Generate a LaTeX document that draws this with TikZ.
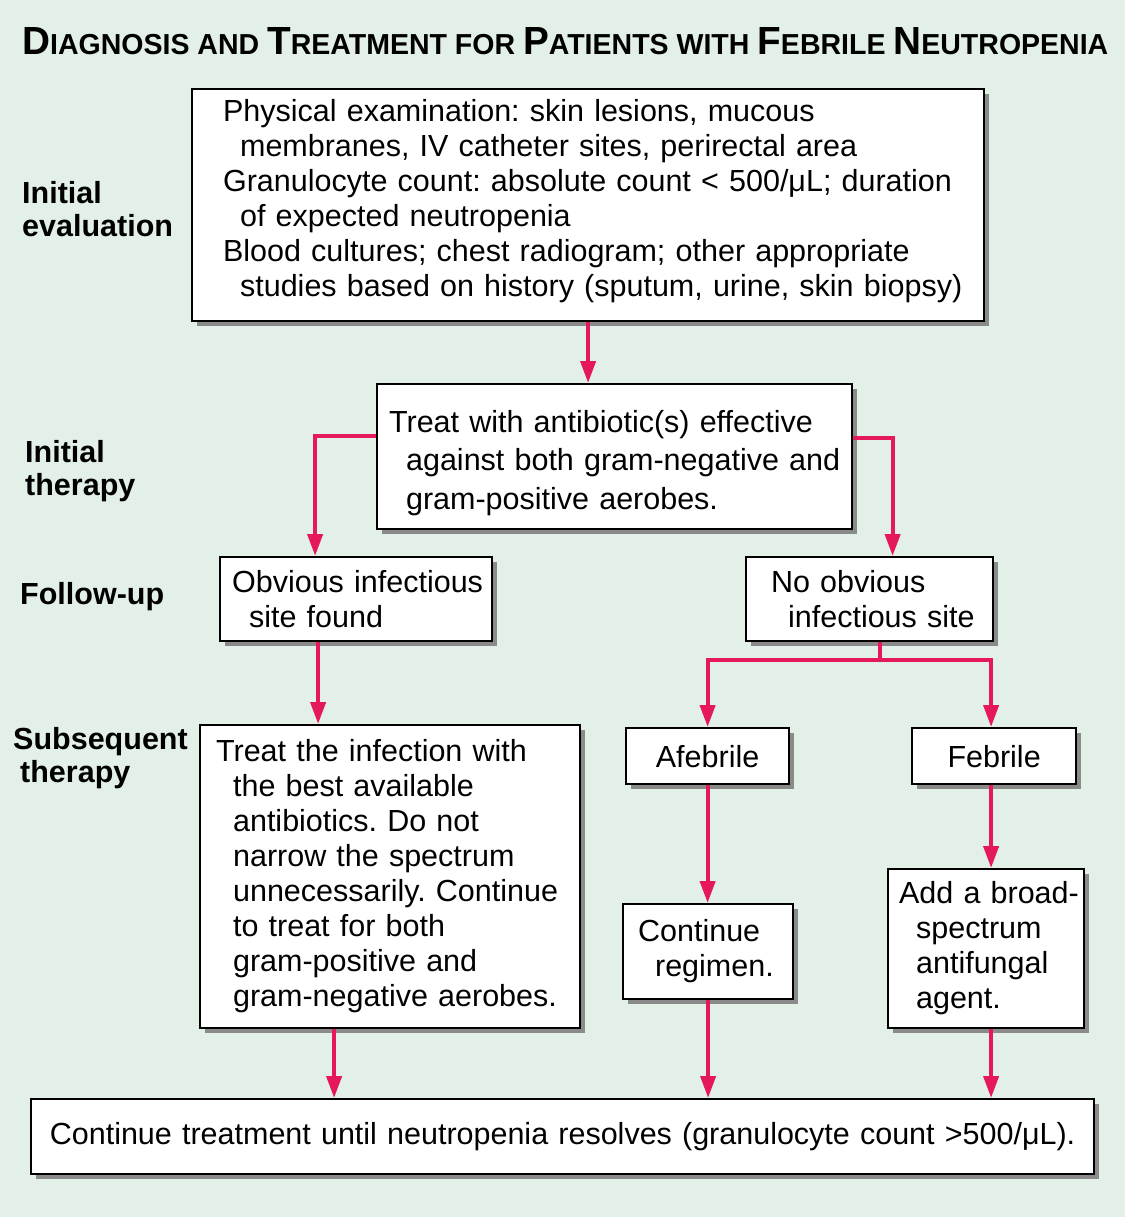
\documentclass[tikz,border=0pt]{standalone}
\usepackage{fontspec}
\setmainfont{Liberation Sans}
\usetikzlibrary{arrows.meta,shadows}
\definecolor{mint}{HTML}{E2F0E7}
\definecolor{flowred}{HTML}{E4185A}
\definecolor{shade}{HTML}{8A8A8A}
\frenchspacing
\newcommand{\subln}{\hspace*{17pt}}
\newcommand{\capsc}[1]{{\fontsize{38}{38}\selectfont #1}}

\tikzset{
  box/.style={draw=black, line width=2.2pt, fill=white, anchor=north west,
    drop shadow={shadow xshift=5pt, shadow yshift=-5pt, fill=shade, opacity=1},
    align=left, inner ysep=0pt, font=\fontsize{30.5}{35}\selectfont},
  boxdim/.style n args={4}{minimum width=#1pt, minimum height=#2pt, inner xsep=#3pt, text width=#4pt},
  stage/.style={font=\bfseries\fontsize{30.5}{33}\selectfont, align=left, anchor=west, inner sep=0pt},
  link/.style={draw=flowred, line width=4pt},
  flow/.style={link, -{Triangle[width=15pt,length=22pt]}}
}

\begin{document}
\begin{tikzpicture}[x=1pt, y=-1pt]
  \fill[mint] (0,0) rectangle (1125,1217);
  \useasboundingbox (0,0) rectangle (1125,1217);

  % Title
  \node[anchor=base west, inner sep=0pt] (title) at (22,55)
    {\resizebox{1086pt}{27pt}{\bfseries\fontsize{28}{28}\selectfont
      \capsc{D}IAGNOSIS AND \capsc{T}REATMENT FOR \capsc{P}ATIENTS WITH \capsc{F}EBRILE \capsc{N}EUTROPENIA}};

  % Stages
  \node[stage] (lbleval) at (22,209) {Initial\\evaluation};
  \node[stage] (lbltherapy) at (25,471) {Initial\\therapy};
  \node[stage] (lblfollow) at (20,597) {Follow-up};
  \node[stage] (lblsubseq) at (13,758) {Subsequent\\\hspace*{7pt}therapy};

  % Boxes
  \node[box, boxdim={792}{232}{31}{730}] (eval) at (191,88)
    {\mbox{Physical examination: skin lesions, mucous}\\
     \subln\mbox{membranes, IV catheter sites, perirectal area}\\
     \mbox{Granulocyte count: absolute count < 500/μL; duration}\\
     \subln\mbox{of expected neutropenia}\\
     \mbox{Blood cultures; chest radiogram; other appropriate}\\
     \subln\mbox{studies based on history (sputum, urine, skin biopsy)}\\[-20pt]\mbox{}};
  \node[box, boxdim={475}{145}{12}{451}, font=\fontsize{30.5}{38.5}\selectfont] (therapy) at (376,383)
    {\mbox{}\\[-3.5pt]
     \mbox{Treat with antibiotic(s) effective}\\
     \subln\mbox{against both gram-negative and}\\
     \subln\mbox{gram-positive aerobes.}};
  \node[box, boxdim={272}{84}{12}{248}] (found) at (219,556)
    {\mbox{Obvious infectious}\\ \subln\mbox{site found}};
  \node[box, boxdim={247}{84}{25}{197}] (nosite) at (745,556)
    {\mbox{No obvious}\\ \subln\mbox{infectious site}};
  \node[box, boxdim={380}{303}{16}{348}] (infect) at (199,724)
    {\mbox{Treat the infection with}\\
     \subln\mbox{the best available}\\
     \subln\mbox{antibiotics. Do not}\\
     \subln\mbox{narrow the spectrum}\\
     \subln\mbox{unnecessarily. Continue}\\
     \subln\mbox{to treat for both}\\
     \subln\mbox{gram-positive and}\\
     \subln\mbox{gram-negative aerobes.}};
  \node[box, boxdim={163}{56}{0}{163}, align=center] (afebrile) at (625,727) {Afebrile};
  \node[box, boxdim={164}{56}{0}{164}, align=center] (febrile) at (911,727) {Febrile};
  \node[box, boxdim={170}{95}{15}{140}] (regimen) at (622,903)
    {Continue\\ \subln regimen.};
  \node[box, boxdim={196}{159}{11}{174}] (antifungal) at (887,868)
    {\mbox{Add a broad-}\\ \subln spectrum\\ \subln antifungal\\ \subln agent.};
  \node[box, boxdim={1063}{75}{0}{1063}, align=center] (final) at (30,1098)
    {\mbox{Continue treatment until neutropenia resolves (granulocyte count >500/μL).}};

  % Connectors
  \coordinate (fork) at (880,660);
  \draw[flow] (eval.south) -- (eval.south |- therapy.north);
  \draw[flow] ([yshift=21pt]therapy.west) -| ([xshift=-41pt]found.north);
  \draw[flow] ([yshift=19pt]therapy.east) -| ([xshift=23pt]nosite.north);
  \draw[flow] ([xshift=-38pt]found.south) -- ([xshift=-38pt]found.south |- infect.north);
  \draw[link] (fork |- nosite.south) -- (fork);
  \draw[flow] (fork) -| (afebrile.north);
  \draw[flow] (fork) -| ([xshift=-3pt]febrile.north);
  \draw[flow] (afebrile.south) -- (afebrile.south |- regimen.north);
  \draw[flow] ([xshift=-3pt]febrile.south) -- ([xshift=-3pt]febrile.south |- antifungal.north);
  \draw[flow] ([xshift=-56pt]infect.south) -- ([xshift=-56pt]infect.south |- final.north);
  \draw[flow] (regimen.south) -- (regimen.south |- final.north);
  \draw[flow] ([xshift=-3pt]febrile.south |- antifungal.south) -- ([xshift=-3pt]febrile.south |- final.north);
\end{tikzpicture}
\end{document}
